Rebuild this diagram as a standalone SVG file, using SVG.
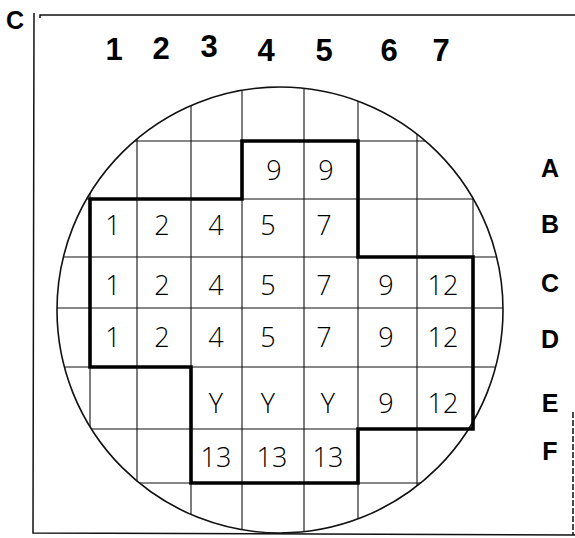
<svg xmlns="http://www.w3.org/2000/svg" width="575" height="538" viewBox="0 0 575 538">
<style>
.frame{fill:none;stroke:#111;stroke-width:1.5}
.grid{fill:none;stroke:#111;stroke-width:1.1}
.wafer{fill:none;stroke:#111;stroke-width:1.6}
.zone{fill:none;stroke:#000;stroke-width:3.6;stroke-linejoin:miter}
.col{font-family:"Liberation Sans",Arial,sans-serif;font-weight:bold;font-size:31px;fill:#000;text-anchor:middle}
.row{font-family:"Liberation Sans",Arial,sans-serif;font-weight:bold;font-size:25px;fill:#000;text-anchor:middle}
.cell{font-family:"Open Sans","Liberation Sans",sans-serif;font-weight:300;font-size:27px;fill:#000;text-anchor:middle}
.tag{font-family:"Liberation Sans",Arial,sans-serif;font-weight:bold;font-size:25px;fill:#000}
</style>
<defs>
<clipPath id="waferClip"><circle cx="280" cy="310" r="223"/></clipPath>
</defs>
<rect width="575" height="538" fill="#fff"/>
<g id="frame">
<path class="frame" d="M34,13 L33,533 L575,535"/>
<path class="frame" d="M40,18 L40,15 L575,15"/>
<path class="frame" d="M573,412 L573,535" stroke-dasharray="6,2"/>
<text class="tag" x="6" y="29">C</text>
</g>
<g id="wafer">
<circle class="wafer" cx="280" cy="310" r="223"/>
<g clip-path="url(#waferClip)" class="grid">
<path d="M90,0V538M137,0V538M191,0V538M242,0V538M304,0V538M358,0V538M417,0V538M473,0V538"/>
<path d="M0,141H575M0,199H575M0,257H575M0,308H575M0,367H575M0,429H575M0,483H575"/>
</g>
</g>
<g id="column-labels">
<text class="col" x="114" y="60">1</text>
<text class="col" x="161" y="59">2</text>
<text class="col" x="209" y="57">3</text>
<text class="col" x="266" y="61">4</text>
<text class="col" x="324" y="61">5</text>
<text class="col" x="389" y="61">6</text>
<text class="col" x="441" y="61">7</text>
</g>
<g id="row-labels">
<text class="row" x="550" y="177">A</text>
<text class="row" x="550" y="233">B</text>
<text class="row" x="550" y="292">C</text>
<text class="row" x="550" y="348">D</text>
<text class="row" x="550" y="412">E</text>
<text class="row" x="550" y="460">F</text>
</g>
<g id="zone">
<path class="zone" d="M242,141 H358 V257 H473 V429 H358 V483 H191 V367 H90 V199 H242 Z"/>
</g>
<g id="cells">
<text class="cell" x="274" y="180">9</text>
<text class="cell" x="326" y="180">9</text>
<text class="cell" x="113" y="235">1</text>
<text class="cell" x="162" y="235">2</text>
<text class="cell" x="216" y="235">4</text>
<text class="cell" x="268" y="235">5</text>
<text class="cell" x="324" y="235">7</text>
<text class="cell" x="113" y="295">1</text>
<text class="cell" x="162" y="295">2</text>
<text class="cell" x="216" y="295">4</text>
<text class="cell" x="268" y="295">5</text>
<text class="cell" x="324" y="295">7</text>
<text class="cell" x="386" y="295">9</text>
<text class="cell" x="443" y="295">12</text>
<text class="cell" x="113" y="347">1</text>
<text class="cell" x="162" y="347">2</text>
<text class="cell" x="216" y="347">4</text>
<text class="cell" x="268" y="347">5</text>
<text class="cell" x="324" y="347">7</text>
<text class="cell" x="386" y="347">9</text>
<text class="cell" x="443" y="347">12</text>
<text class="cell" x="216" y="413">Y</text>
<text class="cell" x="268" y="413">Y</text>
<text class="cell" x="328" y="413">Y</text>
<text class="cell" x="386" y="413">9</text>
<text class="cell" x="443" y="413">12</text>
<text class="cell" x="216" y="467">13</text>
<text class="cell" x="272" y="467">13</text>
<text class="cell" x="328" y="467">13</text>
</g>
</svg>
